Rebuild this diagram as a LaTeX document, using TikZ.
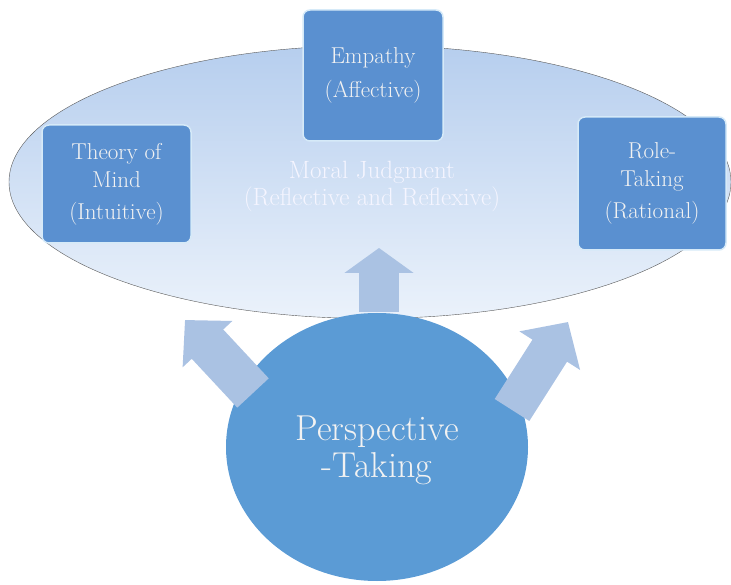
\documentclass[tikz,border=0pt]{standalone}
\usetikzlibrary{shapes.geometric,arrows.meta}

\definecolor{boxblue}{HTML}{5A90D0}
\definecolor{discblue}{HTML}{5B9BD5}
\definecolor{rimblue}{HTML}{D6EAF8}
\definecolor{arrowblue}{HTML}{AAC2E3}
\definecolor{ringtop}{HTML}{B6CEEE}
\definecolor{ringbot}{HTML}{EBF2FB}

\tikzstyle{facet}=[rectangle, rounded corners=7pt, draw=rimblue, line width=1.5pt, fill=boxblue, text=white!95!black, align=center, font=\fontsize{23}{28}\selectfont]
\tikzstyle{blockarrow}=[draw=arrowblue, fill=arrowblue]

\begin{document}
\begin{tikzpicture}[x=1pt,y=1pt]
\useasboundingbox (0,0) rectangle (731,584);
% outer ellipse with the three facets
\node[ellipse, draw=black!65, thin, top color=ringtop, bottom color=ringbot, minimum width=722pt, minimum height=273pt] (mj) at (370,402) {};
\node[white!96!blue, align=center, font=\fontsize{25}{27}\selectfont] (mjtext) at (372,398) {Moral Judgment\\(Reflective and Reflexive)};
\node[facet, minimum width=140pt, minimum height=131pt] (emp) at (373,508.5) {Empathy\\[6pt](Affective)};
\node[facet, minimum width=149pt, minimum height=118pt] (tom) at (116.5,400) {Theory of\\Mind\\[4pt](Intuitive)};
\node[facet, minimum width=148pt, minimum height=133pt] (rt) at (652,400.5) {Role-\\Taking\\[4pt](Rational)};
% perspective-taking disc
\node[ellipse, fill=discblue, minimum width=302pt, minimum height=268pt] (pt) at (377,137) {};
\node[text=white!95!black, align=center, font=\fontsize{36}{37}\selectfont] (pttext) at (377,134) {Perspective\\-Taking};
% block arrows out of the disc
\coordinate (upbase) at (379,272);
\coordinate (uptip) at (379,336);
\coordinate (lbase) at (253,191);
\coordinate (ltip) at (185,264);
\coordinate (rbase) at (512,174);
\coordinate (rtip) at (568,262);
\draw[blockarrow, line width=40pt, -{Triangle[length=25pt, width=68pt]}] (upbase) -- (uptip);
\draw[blockarrow, line width=43pt, -{Triangle[length=33pt, width=66pt]}] (lbase) -- (ltip);
\draw[blockarrow, line width=41pt, -{Triangle[length=34pt, width=70pt]}] (rbase) -- (rtip);
\end{tikzpicture}
\end{document}
